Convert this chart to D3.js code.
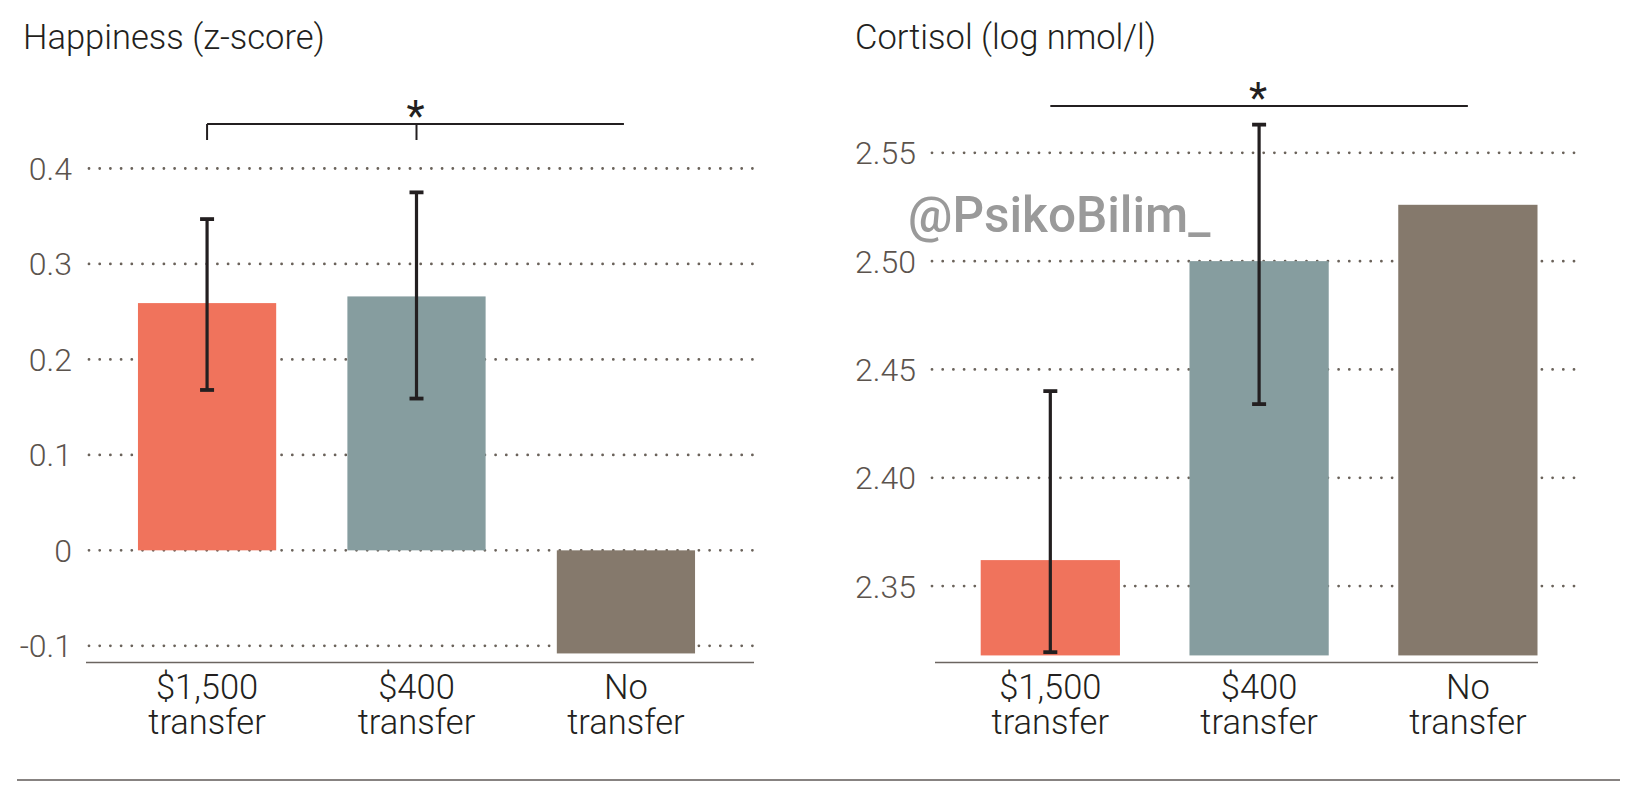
<!DOCTYPE html>
<html>
<head>
<meta charset="utf-8">
<script src="https://cdn.jsdelivr.net/npm/d3@7"></script>
<style>
  html, body { margin: 0; padding: 0; background: #ffffff; }
  svg { display: block; }
  text { font-family: Roboto, "Noto Sans", sans-serif; }
</style>
</head>
<body>
<svg id="chart" width="1641" height="800"></svg>
<script>
// ---------- data ----------
const categories = ["$1,500 transfer", "$400 transfer", "No transfer"];
const categoryLines = [["$1,500", "transfer"], ["$400", "transfer"], ["No", "transfer"]];
const barColors = ["#f0735c", "#869d9f", "#85796c"];

const happinessTitle = "Happiness (z-score)";
const happinessValues = [0.259, 0.266, -0.108];
const happinessErrLow = [0.168, 0.159, null];
const happinessErrHigh = [0.347, 0.375, null];
const happinessTicks = [-0.1, 0, 0.1, 0.2, 0.3, 0.4];
const happinessTickLabels = ["-0.1", "0", "0.1", "0.2", "0.3", "0.4"];

const cortisolTitle = "Cortisol (log nmol/l)";
const cortisolValues = [2.362, 2.500, 2.526];
const cortisolErrLow = [2.3195, 2.434, null];
const cortisolErrHigh = [2.440, 2.563, null];
const cortisolTicks = [2.35, 2.40, 2.45, 2.50, 2.55];
const cortisolTickLabels = ["2.35", "2.40", "2.45", "2.50", "2.55"];
const cortisolBase = 2.318;

const watermark = "@PsikoBilim_";

// ---------- drawing ----------
const svg = d3.select("#chart");

function panel(cfg) {
  const g = svg.append("g");
  const x = d3.scaleBand().domain(categories).range(cfg.xRange)
    .paddingInner(cfg.padInner).paddingOuter(0.25);
  const y = d3.scaleLinear().domain(cfg.yDomain).range(cfg.yRange);

  // title
  g.append("text").attr("x", cfg.titleX).attr("y", 49)
    .attr("font-size", 34.5).attr("font-weight", 300).attr("fill", "#231f20")
    .text(cfg.title);

  // gridlines
  g.selectAll("line.grid").data(cfg.ticks).join("line")
    .attr("class", "grid")
    .attr("x1", cfg.gridX[0]).attr("x2", cfg.gridX[1])
    .attr("y1", d => y(d)).attr("y2", d => y(d))
    .attr("stroke", "#6a625a").attr("stroke-width", 2.8)
    .attr("stroke-linecap", "round").attr("stroke-dasharray", "0,10.7");

  // tick labels
  g.selectAll("text.tick").data(cfg.ticks).join("text")
    .attr("class", "tick")
    .attr("x", cfg.tickX).attr("y", d => y(d)).attr("dy", "0.36em")
    .attr("text-anchor", "end").attr("font-size", 32).attr("font-weight", 300)
    .attr("fill", "#5b534d")
    .text((d, i) => cfg.tickLabels[i]);

  // bars
  const base = cfg.base;
  g.selectAll("rect.bar").data(cfg.values).join("rect")
    .attr("class", "bar")
    .attr("x", (d, i) => x(categories[i]))
    .attr("width", x.bandwidth())
    .attr("y", d => Math.min(y(d), y(base)))
    .attr("height", d => Math.abs(y(d) - y(base)))
    .attr("fill", (d, i) => barColors[i]);

  // axis line
  g.append("line")
    .attr("x1", cfg.axisX[0]).attr("x2", cfg.axisX[1])
    .attr("y1", 662.5).attr("y2", 662.5)
    .attr("stroke", "#6b6560").attr("stroke-width", 1.6);

  // error bars
  const errs = cfg.values.map((d, i) => ({ i, lo: cfg.errLow[i], hi: cfg.errHigh[i] }))
    .filter(e => e.lo !== null);
  const eg = g.selectAll("g.err").data(errs).join("g").attr("class", "err");
  const cx = e => x(categories[e.i]) + x.bandwidth() / 2;
  eg.append("line")
    .attr("x1", cx).attr("x2", cx)
    .attr("y1", e => y(e.hi)).attr("y2", e => y(e.lo))
    .attr("stroke", "#231f20").attr("stroke-width", 3.2);
  ["hi", "lo"].forEach(k => {
    eg.append("line")
      .attr("x1", e => cx(e) - 7).attr("x2", e => cx(e) + 7)
      .attr("y1", e => y(e[k])).attr("y2", e => y(e[k]))
      .attr("stroke", "#231f20").attr("stroke-width", 3.8);
  });

  // category labels
  categoryLines.forEach((lines, i) => {
    const t = g.append("text")
      .attr("x", x(categories[i]) + x.bandwidth() / 2)
      .attr("y", 699).attr("text-anchor", "middle")
      .attr("font-size", 34.5).attr("font-weight", 300).attr("fill", "#231f20");
    lines.forEach((ln, j) => {
      t.append("tspan").attr("x", x(categories[i]) + x.bandwidth() / 2)
        .attr("dy", j === 0 ? 0 : 34.5).text(ln);
    });
  });

  // significance bracket
  const c0 = x(categories[0]) + x.bandwidth() / 2;
  const c1 = x(categories[1]) + x.bandwidth() / 2;
  const c2 = x(categories[2]) + x.bandwidth() / 2;
  const by = cfg.bracketY;
  g.append("line").attr("x1", c0).attr("x2", c2 - cfg.bracketTrim)
    .attr("y1", by).attr("y2", by)
    .attr("stroke", "#231f20").attr("stroke-width", 2);
  if (cfg.bracketTicks) {
    [c0, c1].forEach(c => {
      g.append("line").attr("x1", c).attr("x2", c)
        .attr("y1", by).attr("y2", by + 16)
        .attr("stroke", "#231f20").attr("stroke-width", 2);
    });
  }
  g.append("text").attr("x", c1 - 1).attr("y", by - 13.5 + 19)
    .attr("text-anchor", "middle").attr("font-size", 42).attr("font-weight", 400)
    .attr("fill", "#231f20").text("*");

  return { x, y };
}

panel({
  title: happinessTitle, titleX: 23,
  values: happinessValues, errLow: happinessErrLow, errHigh: happinessErrHigh,
  ticks: happinessTicks, tickLabels: happinessTickLabels,
  yDomain: [-0.1, 0.4], yRange: [645.8, 168.5], base: 0,
  xRange: [85.6, 747.4], padInner: 0.34,
  gridX: [89, 754], axisX: [86, 754], tickX: 72,
  bracketY: 124, bracketTicks: true, bracketTrim: 2
});

panel({
  title: cortisolTitle, titleX: 855,
  values: cortisolValues, errLow: cortisolErrLow, errHigh: cortisolErrHigh,
  ticks: cortisolTicks, tickLabels: cortisolTickLabels,
  yDomain: [2.35, 2.55], yRange: [586.1, 152.8], base: cortisolBase,
  xRange: [928.5, 1589.7], padInner: 0.333,
  gridX: [932, 1580], axisX: [935, 1538], tickX: 916,
  bracketY: 106, bracketTicks: false, bracketTrim: 0
});

// watermark
svg.append("text").attr("x", 908).attr("y", 232)
  .attr("font-size", 49.5).attr("font-weight", 500).attr("fill", "#9a9a9a")
  .text(watermark);

// bottom rule
svg.append("line").attr("x1", 17).attr("x2", 1620).attr("y1", 780).attr("y2", 780)
  .attr("stroke", "#5f5a57").attr("stroke-width", 1.5);
</script>
</body>
</html>
